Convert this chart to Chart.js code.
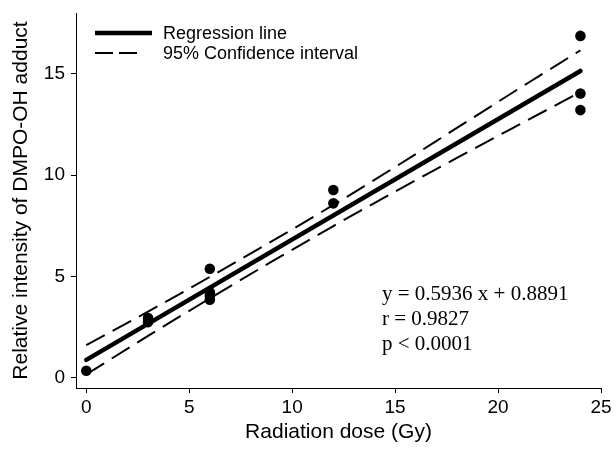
<!DOCTYPE html>
<html><head><meta charset="utf-8">
<script src="https://cdn.jsdelivr.net/npm/chart.js@4.4.1/dist/chart.umd.min.js"></script>
<style>html,body{margin:0;padding:0;background:#fff;}canvas{display:block;}</style>
</head><body>
<canvas id="c" width="616" height="451"></canvas>
<script>
// ---- data ----
const doseX = [0, 3, 3, 6, 6, 6, 6, 12, 12, 24, 24, 24];
const intensityY = [0.35, 2.95, 2.75, 5.38, 4.22, 4.05, 3.85, 9.27, 8.61, 16.87, 14.03, 13.21];
const regressionX = [0, 24];
const regressionY = [0.89, 15.14];
const ciX = [0, 3, 6, 9, 12, 15, 18, 21, 24];
const ciUpper = [1.61, 3.27, 4.98, 6.73, 8.53, 10.40, 12.33, 14.26, 16.16];
const ciLower = [0.17, 2.07, 3.92, 5.73, 7.49, 9.19, 10.85, 12.48, 14.10];
const xTicks = [0, 5, 10, 15, 20, 25];
const yTicks = [0, 5, 10, 15];
const statsText = ['y = 0.5936 x + 0.8891', 'r = 0.9827', 'p < 0.0001'];
const xTitle = 'Radiation dose (Gy)';
const yTitle = 'Relative intensity of DMPO-OH adduct';

const SANS = '"Liberation Sans", Arial, Helvetica, sans-serif';
const SERIF = '"Liberation Serif", "Times New Roman", serif';
Chart.defaults.font.family = SANS;
Chart.defaults.color = '#000';

const pts = (xs, ys) => xs.map((x, i) => ({x: x, y: ys[i]}));

const overlayPlugin = {
  id: 'overlay',
  afterDraw(chart) {
    const ctx = chart.ctx;
    ctx.save();
    const items = chart.data.datasets.filter(d => d.legendSample);
    ctx.font = '18px ' + SANS;
    ctx.textBaseline = 'middle';
    ctx.textAlign = 'left';
    ctx.fillStyle = '#000';
    ctx.strokeStyle = '#000';
    items.forEach((d, i) => {
      const y = 33 + i * 20;
      ctx.beginPath();
      ctx.lineWidth = d.borderWidth;
      ctx.lineCap = 'butt';
      ctx.setLineDash(d.legendSample.dash);
      ctx.moveTo(95, y);
      ctx.lineTo(95 + d.legendSample.len, y);
      ctx.stroke();
      ctx.setLineDash([]);
      ctx.fillText(d.label, 163, y + 1);
    });
    ctx.font = '21px ' + SERIF;
    statsText.forEach((t, i) => ctx.fillText(t, 382, 294 + i * 25));
    ctx.restore();
  }
};

new Chart(document.getElementById('c'), {
  type: 'scatter',
  data: {
    datasets: [
      {
        label: 'Data',
        data: pts(doseX, intensityY),
        showLine: false,
        pointRadius: 5.3,
        pointBackgroundColor: '#000',
        pointBorderWidth: 0
      },
      {
        label: 'Regression line',
        data: pts(regressionX, regressionY),
        showLine: true,
        borderColor: '#000',
        borderWidth: 4.5,
        borderCapStyle: 'round',
        pointRadius: 0,
        legendSample: {len: 57, dash: []}
      },
      {
        label: '95% Confidence interval',
        data: pts(ciX, ciUpper),
        showLine: true,
        borderColor: '#000',
        borderWidth: 2,
        borderDash: [21, 9],
        cubicInterpolationMode: 'monotone',
        pointRadius: 0,
        legendSample: {len: 42, dash: [18, 6]}
      },
      {
        label: '95% Confidence interval (lower)',
        data: pts(ciX, ciLower),
        showLine: true,
        borderColor: '#000',
        borderWidth: 2,
        borderDash: [21, 9],
        cubicInterpolationMode: 'monotone',
        pointRadius: 0
      }
    ]
  },
  options: {
    responsive: false,
    animation: false,
    devicePixelRatio: 1,
    layout: {padding: {top: 13, right: 15, left: 0, bottom: 0}},
    plugins: {legend: {display: false}, tooltip: {enabled: false}},
    scales: {
      x: {
        type: 'linear', min: -0.5, max: 25,
        afterBuildTicks: s => { s.ticks = xTicks.map(v => ({value: v})); },
        afterFit: s => { s.height = 63; s.paddingLeft = 0; s.paddingRight = 0; s.paddingTop = 0; s.paddingBottom = 0; },
        grid: {drawOnChartArea: false, drawTicks: true, tickLength: 5, color: '#000', lineWidth: 1},
        border: {display: true, color: '#000', width: 1},
        ticks: {color: '#000', font: {size: 19}, padding: 3, maxRotation: 0},
        title: {display: true, text: xTitle, color: '#000', font: {size: 21, lineHeight: 1.2}, padding: {top: 0, bottom: 6}}
      },
      y: {
        type: 'linear', min: -0.5, max: 18,
        afterBuildTicks: s => { s.ticks = yTicks.map(v => ({value: v})); },
        afterFit: s => { s.width = 76; s.paddingLeft = 0; s.paddingRight = 0; s.paddingTop = 0; s.paddingBottom = 0; },
        grid: {drawOnChartArea: false, drawTicks: true, tickLength: 5, color: '#000', lineWidth: 1},
        border: {display: true, color: '#000', width: 1},
        ticks: {color: '#000', font: {size: 19}, padding: 6},
        title: {display: true, text: yTitle, color: '#000', font: {size: 21, lineHeight: 1.2}, padding: {top: 9, bottom: 0}}
      }
    }
  },
  plugins: [overlayPlugin]
});
</script>
</body></html>
